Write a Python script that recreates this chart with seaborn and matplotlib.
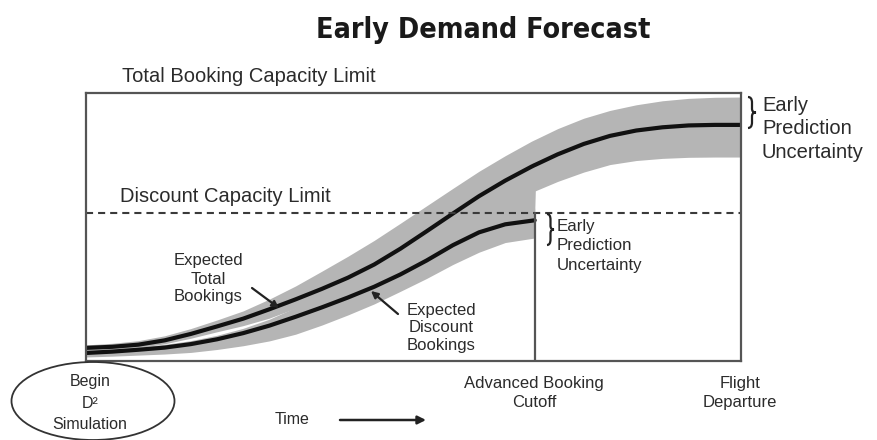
import matplotlib
matplotlib.use("Agg")
import matplotlib.pyplot as plt
from matplotlib.patches import Ellipse, PathPatch
from matplotlib.path import Path
import seaborn as sns

# ---- data (x = time 0..100, y = bookings 0..100) ----
time_total = [0, 4, 8, 12, 16, 20, 24, 28, 32, 36, 40, 44, 48, 52, 56, 60, 64, 68,
              68.5, 68.6, 72, 76, 80, 84, 88, 92, 96, 100]
total_mean = [4.9, 5.3, 6.1, 7.7, 10.1, 12.9, 15.8, 19.3, 23.0, 26.9, 31.1, 36.0, 41.9,
              48.4, 55.0, 61.5, 67.3, 72.5, 73.1, 73.2, 77.1, 81.0, 84.0, 86.0, 87.2,
              87.9, 88.1, 88.1]
total_upper = [6.0, 6.6, 7.6, 9.4, 12.1, 15.3, 18.7, 23.1, 28.0, 33.5, 39.1, 45.0, 51.4,
               57.9, 64.4, 70.8, 76.6, 82.0, 82.6, 82.7, 86.7, 90.6, 93.5, 95.6, 97.1,
               98.0, 98.4, 98.5]
total_lower = [3.9, 4.3, 5.0, 6.4, 8.5, 10.9, 13.2, 16.0, 19.7, 23.5, 27.5, 32.0, 37.0,
               42.0, 47.0, 51.0, 54.0, 55.0, 55.0, 63.5, 67.0, 70.5, 73.3, 74.8, 75.6,
               76.0, 76.1, 76.1]

time_disc = [0, 4, 8, 12, 16, 20, 24, 28, 32, 36, 40, 44, 48, 52, 56, 60, 64, 68.5]
disc_mean = [3.0, 3.5, 4.2, 5.0, 6.3, 8.1, 10.4, 13.2, 16.5, 20.0, 23.7, 27.7, 32.3,
             37.5, 43.2, 48.0, 51.0, 52.5]
disc_upper = [4.0, 4.5, 5.2, 6.2, 7.6, 9.6, 12.2, 15.6, 20.0, 24.5, 29.2, 33.7, 38.3,
              43.7, 49.2, 53.0, 55.5, 57.0]
disc_lower = [1.5, 1.8, 2.2, 2.6, 3.2, 4.3, 5.7, 7.5, 10.0, 13.4, 17.2, 21.3, 26.0,
              30.8, 36.0, 40.6, 44.2, 45.9]

total_capacity = 100
discount_capacity = 55.2
cutoff_time = 68.5
departure_time = 100

# ---- style ----
sns.set_theme(style="white")
plt.rcParams['font.family'] = ['Liberation Sans', 'DejaVu Sans']

W, H = 878, 440
fig = plt.figure(figsize=(W / 100, H / 100), dpi=100)
ax = fig.add_axes([86 / W, 1 - 361 / H, 655 / W, 268 / H])

band = '#b5b5b5'
ax.fill_between(time_total, total_lower, total_upper, color=band, lw=0, zorder=1)
ax.fill_between(time_disc, disc_lower, disc_upper, color=band, lw=0, zorder=1)
sns.lineplot(x=time_total, y=total_mean, ax=ax, color='#111111', lw=3.0, zorder=3)
sns.lineplot(x=time_disc, y=disc_mean, ax=ax, color='#111111', lw=3.0, zorder=3)

ax.plot([0, departure_time], [discount_capacity, discount_capacity], color='#3a3a3a',
        lw=1.5, linestyle=(0, (3.4, 2.4)), zorder=4)
ax.plot([cutoff_time, cutoff_time], [0, discount_capacity], color='#555555', lw=1.6, zorder=4)

ax.set_xlim(0, departure_time)
ax.set_ylim(0, total_capacity)
ax.set_xticks([])
ax.set_yticks([])
for s in ax.spines.values():
    s.set_color('#555555')
    s.set_linewidth(1.6)
    s.set_zorder(5)

# ---- annotation layer in pixel coordinates ----
ov = fig.add_axes([0, 0, 1, 1], zorder=10)
ov.set_xlim(0, W)
ov.set_ylim(H, 0)
ov.axis('off')
ov.patch.set_alpha(0)

tc = '#2b2b2b'
ov.text(483, 30, 'Early Demand Forecast', ha='center', va='center', fontsize=20.5,
        fontweight='bold', fontstretch='condensed', family=['DejaVu Sans'],
        color='#1a1a1a')
ov.text(122, 77, 'Total Booking Capacity Limit', ha='left', va='center', fontsize=14.5, color=tc)
ov.text(120, 196, 'Discount Capacity Limit', ha='left', va='center', fontsize=14.5, color=tc)

ov.text(762, 129, 'Early\nPrediction\nUncertainty', ha='left', va='center', fontsize=14.5,
        linespacing=1.3, color=tc)
ov.text(557, 246, 'Early\nPrediction\nUncertainty', ha='left', va='center', fontsize=12.2,
        linespacing=1.35, color=tc)


def brace(x, y0, y1, w):
    h = y1 - y0
    ym = (y0 + y1) / 2
    verts = [(x, y0), (x + w / 2, y0), (x + w / 2, y0 + h * 0.18),
             (x + w / 2, ym - h * 0.12), (x + w / 2, ym), (x + w, ym),
             (x + w / 2, ym), (x + w / 2, ym + h * 0.12),
             (x + w / 2, y1 - h * 0.18), (x + w / 2, y1), (x, y1)]
    codes = [Path.MOVETO, Path.CURVE3, Path.CURVE3, Path.LINETO, Path.CURVE3, Path.CURVE3,
             Path.CURVE3, Path.CURVE3, Path.LINETO, Path.CURVE3, Path.CURVE3]
    ov.add_patch(PathPatch(Path(verts, codes), fill=False, edgecolor='#222222', lw=1.6))


brace(748, 97, 128, 8)
brace(547, 214, 245, 7)

ov.text(208, 279, 'Expected\nTotal\nBookings', ha='center', va='center', fontsize=12,
        linespacing=1.25, color=tc)
ov.text(441, 328, 'Expected\nDiscount\nBookings', ha='center', va='center', fontsize=12,
        linespacing=1.18, color=tc)
ov.annotate('', xy=(279, 308), xytext=(252, 288),
            arrowprops=dict(arrowstyle='-|>', color='#222222', lw=1.6, mutation_scale=10,
                            shrinkA=0, shrinkB=0))
ov.annotate('', xy=(371, 291), xytext=(398, 314),
            arrowprops=dict(arrowstyle='-|>', color='#222222', lw=1.6, mutation_scale=10,
                            shrinkA=0, shrinkB=0))

ov.text(534, 393, 'Advanced Booking\nCutoff', ha='center', va='center', fontsize=12,
        linespacing=1.3, color=tc)
ov.text(740, 393, 'Flight\nDeparture', ha='center', va='center', fontsize=12,
        linespacing=1.3, color=tc)

ov.add_patch(Ellipse((93, 401), 163, 78, fill=False, edgecolor='#333333', lw=1.3))
ov.text(90, 403, 'Begin\nD²\nSimulation', ha='center', va='center', fontsize=11.5,
        linespacing=1.55, color=tc)

ov.text(292, 419, 'Time', ha='center', va='center', fontsize=11.5, color=tc)
ov.annotate('', xy=(426, 420), xytext=(340, 420),
            arrowprops=dict(arrowstyle='-|>', color='#222222', lw=1.8, mutation_scale=12,
                            shrinkA=0, shrinkB=0))

fig.savefig('out.png', dpi=100)
